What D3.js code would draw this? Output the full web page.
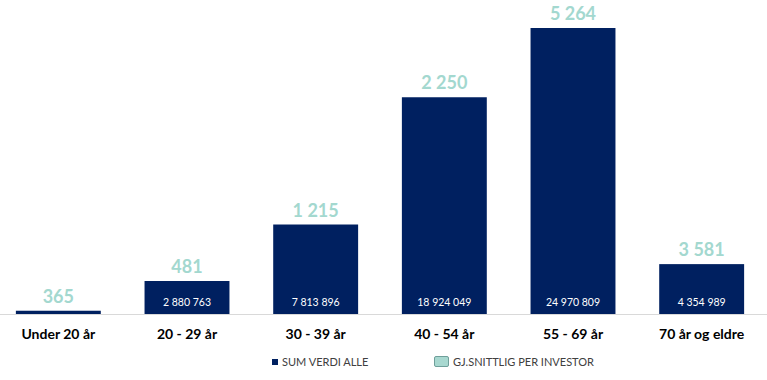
<!DOCTYPE html>
<html>
<head>
<meta charset="utf-8">
<script src="https://cdn.jsdelivr.net/npm/d3@7"></script>
<style>
  body { margin: 0; background: #fff; }
  text { font-family: Lato, "Open Sans", sans-serif; }
</style>
</head>
<body>
<div id="chart"></div>
<script>
// data
var categories = ["Under 20 år", "20 - 29 år", "30 - 39 år", "40 - 54 år", "55 - 69 år", "70 år og eldre"];
var sumValues = [285000, 2880763, 7813896, 18924049, 24970809, 4354989];
var sumLabels = ["", "2 880 763", "7 813 896", "18 924 049", "24 970 809", "4 354 989"];
var avgLabels = ["365", "481", "1 215", "2 250", "5 264", "3 581"];
var legendNames = ["SUM VERDI ALLE", "GJ.SNITTLIG PER INVESTOR"];

var svgWidth = 767;
var svgHeight = 380;
var baseY = 314;

var svg = d3.select("#chart")
  .append("svg")
  .attr("width", svgWidth)
  .attr("height", svgHeight);

var xScale = d3.scaleBand()
  .domain(categories)
  .range([-6, 766])
  .paddingInner(0.34)
  .paddingOuter(0.17);

var yScale = d3.scaleLinear()
  .domain([0, 24970809])
  .range([baseY, 28]);

// bars
svg.selectAll(".bar")
  .data(categories)
  .enter()
  .append("rect")
  .attr("class", "bar")
  .attr("x", d => xScale(d))
  .attr("y", (d, i) => yScale(sumValues[i]))
  .attr("width", xScale.bandwidth())
  .attr("height", (d, i) => baseY - yScale(sumValues[i]))
  .attr("fill", "#002060");

// axis line
svg.append("line")
  .attr("x1", 0)
  .attr("x2", svgWidth)
  .attr("y1", baseY + 0.5)
  .attr("y2", baseY + 0.5)
  .attr("stroke", "#d9d9d9")
  .attr("stroke-width", 1);

// sum labels inside bars
svg.selectAll(".sumlab")
  .data(categories)
  .enter()
  .append("text")
  .attr("x", d => xScale(d) + xScale.bandwidth() / 2)
  .attr("y", 306)
  .attr("text-anchor", "middle")
  .attr("font-size", "10.5px")
  .attr("fill", "#ffffff")
  .text((d, i) => sumLabels[i]);

// average labels above bars
svg.selectAll(".avglab")
  .data(categories)
  .enter()
  .append("text")
  .attr("x", d => xScale(d) + xScale.bandwidth() / 2)
  .attr("y", (d, i) => yScale(sumValues[i]) - 8)
  .attr("text-anchor", "middle")
  .attr("font-size", "18px")
  .attr("font-weight", "bold")
  .attr("fill", "#a3d8cf")
  .text((d, i) => avgLabels[i]);

// category labels
svg.selectAll(".catlab")
  .data(categories)
  .enter()
  .append("text")
  .attr("x", d => xScale(d) + xScale.bandwidth() / 2)
  .attr("y", 339)
  .attr("text-anchor", "middle")
  .attr("font-size", "14px")
  .attr("font-weight", "bold")
  .attr("fill", "#000")
  .text(d => d);

// legend
var legend = svg.append("g");
legend.append("rect")
  .attr("x", 272).attr("y", 359)
  .attr("width", 6).attr("height", 6)
  .attr("fill", "#002060");
legend.append("text")
  .attr("x", 282).attr("y", 366)
  .attr("font-size", "11px")
  .attr("fill", "#404040")
  .text(legendNames[0]);
legend.append("rect")
  .attr("x", 434.5).attr("y", 356.5)
  .attr("width", 14).attr("height", 10)
  .attr("rx", 1.5)
  .attr("fill", "#a8d8d0")
  .attr("stroke", "#6f9f9a");
legend.append("text")
  .attr("x", 453).attr("y", 366)
  .attr("font-size", "11px")
  .attr("fill", "#404040")
  .text(legendNames[1]);
</script>
</body>
</html>
